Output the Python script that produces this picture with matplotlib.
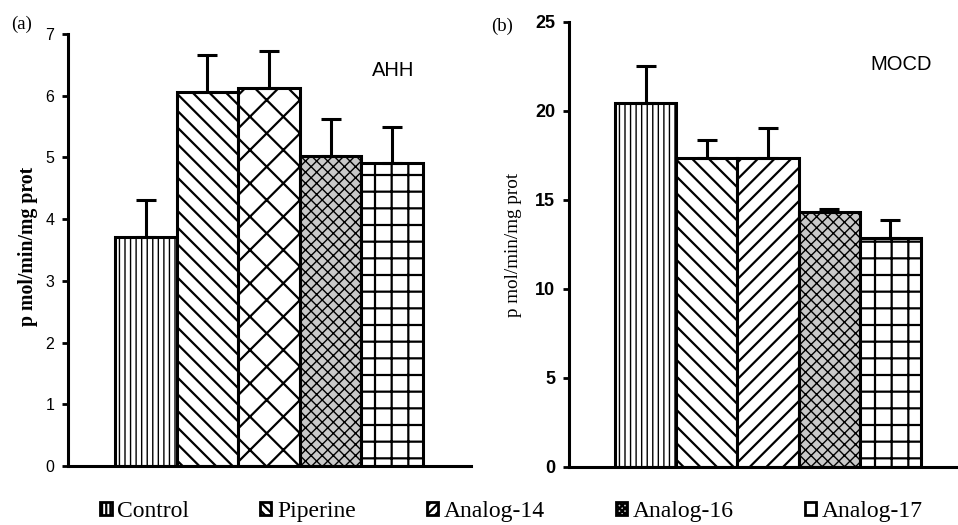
import numpy as np
import matplotlib
matplotlib.use('Agg')
import matplotlib.pyplot as plt
from matplotlib.patches import Patch

groups = ['Control', 'Piperine', 'Analog-14', 'Analog-16', 'Analog-17']

# panel (a) AHH
ahh_mean = [3.71, 6.06, 6.13, 5.02, 4.91]
ahh_err = [0.60, 0.60, 0.60, 0.60, 0.59]

# panel (b) MOCD
mocd_mean = [20.42, 17.33, 17.33, 14.29, 12.87]
mocd_err = [2.11, 1.06, 1.71, 0.19, 0.99]

hatches_a = ['|||', '\\\\', 'x', 'xxx', '+']
hatches_b = ['|||', '\\\\', '//', 'xxx', '+']
faces = ['white', 'white', 'white', '#c8c8c8', 'white']

plt.rcParams['hatch.linewidth'] = 1.6
sans = 'Liberation Sans'
serif = 'Liberation Serif'

fig = plt.figure(figsize=(9.58, 5.25), dpi=100)
ax1 = fig.add_axes([0.0710, 0.1124, 0.4207, 0.8229])
ax2 = fig.add_axes([0.5939, 0.1111, 0.4061, 0.8470])


def draw_panel(ax, means, errs, hatches, ylim, yticks, tick_size, tick_weight):
    x = np.arange(len(means))
    bars = ax.bar(x, means, width=1.0, color=faces, edgecolor='black',
                  linewidth=2.2, zorder=2)
    for b, h in zip(bars, hatches):
        b.set_hatch(h)
        if h in ('|||', 'xxx'):
            b.set_hatch_linewidth(1.0)
    ax.errorbar(x, means, yerr=[np.zeros(len(errs)), errs], fmt='none',
                ecolor='black', elinewidth=2.2, capsize=7, capthick=2.2, zorder=3)
    ax.set_ylim(*ylim)
    ax.set_yticks(yticks)
    ax.set_xticks([])
    for s in ['top', 'right']:
        ax.spines[s].set_visible(False)
    for s in ['left', 'bottom']:
        ax.spines[s].set_linewidth(2.2)
    ax.tick_params(axis='y', direction='out', length=4, width=2, pad=6)
    for lab in ax.get_yticklabels():
        lab.set_fontfamily(sans)
        lab.set_fontsize(tick_size)
        lab.set_fontweight(tick_weight)
    return bars


bars_a = draw_panel(ax1, ahh_mean, ahh_err, hatches_a, (0, 7), range(0, 8), 11.5, 'normal')
ax1.set_xlim(-1.263, 5.279)
bars_b = draw_panel(ax2, mocd_mean, mocd_err, hatches_b, (0, 25), range(0, 26, 5), 13, 'bold')
ax2.set_xlim(-1.252, 5.105)

fig.text(393 / 958, 1 - 71 / 525, 'AHH', ha='center', va='center', fontsize=14.5, family=sans)
fig.text(901 / 958, 1 - 64 / 525, 'MOCD', ha='center', va='center', fontsize=14.5, family=sans)

fig.text(22 / 958, 1 - 24 / 525, '(a)', ha='center', va='center', fontsize=13.5, family=serif)
fig.text(502 / 958, 1 - 26 / 525, '(b)', ha='center', va='center', fontsize=13.5, family=serif)

fig.text(28 / 958, 1 - 246 / 525, 'p mol/min/mg prot', rotation=90, ha='center',
         va='center', fontsize=14.2, fontweight='bold', family=serif)
fig.text(513 / 958, 1 - 245 / 525, 'p mol/min/mg prot', rotation=90, ha='center',
         va='center', fontsize=13.8, family=serif)

handles = [Patch(facecolor=f, edgecolor='black', linewidth=2, hatch=h)
           for f, h in zip(faces, ['||||', '\\\\\\\\', '////', 'xxxxxx', ''])]
fig.legend(handles, groups, loc='center', bbox_to_anchor=(0.534, 0.025), ncol=5,
           frameon=False, prop={'family': serif, 'size': 17}, handlelength=0.47,
           handleheight=0.47, handletextpad=0.25, columnspacing=3.0,
           borderaxespad=0, borderpad=0)

plt.savefig('out.png', dpi=100)
